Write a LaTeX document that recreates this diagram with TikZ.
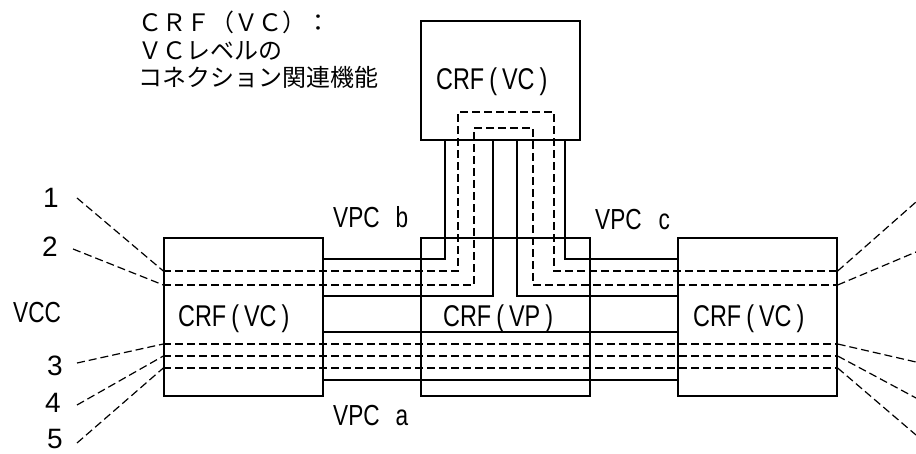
\documentclass[tikz,border=0pt]{standalone}
\usepackage{fontspec}
\setmainfont{Liberation Sans}
\newfontfamily\condsans[FakeStretch=0.78]{Liberation Sans}
\newfontfamily\jpfont{Noto Sans CJK JP}
\begin{document}
\begin{tikzpicture}[x=1pt,y=-1pt,
  box/.style={draw,line width=1.3pt,inner sep=0pt,minimum width=#1},
  wire/.style={line width=1.2pt},
  dwire/.style={line width=1.2pt,dash pattern=on 8pt off 4pt},
  boxtext/.style={font=\condsans\fontsize{30}{32}\selectfont,anchor=base west,inner sep=0pt},
  lbl/.style={font=\condsans\fontsize{29}{31}\selectfont,anchor=base west,inner sep=0pt},
  num/.style={font=\fontsize{28}{30}\selectfont,anchor=base,inner sep=0pt},
  jp/.style={font=\jpfont\fontsize{24}{27}\selectfont,anchor=base west,inner sep=0pt}
]
\useasboundingbox (0,0) rectangle (916,454);

% boxes
\node[box=159pt,minimum height=119pt] (vcT) at (500.5,80.5) {};
\node[box=159pt,minimum height=158pt] (vcL) at (243.5,317) {};
\node[box=169pt,minimum height=158pt] (vp) at (505.5,317) {};
\node[box=159pt,minimum height=158pt] (vcR) at (757.5,317) {};

% box texts
\node[boxtext] (tT) at (436,90) {CRF\,(\,VC\,)};
\node[boxtext] (tL) at (178,327) {CRF\,(\,VC\,)};
\node[boxtext] (tM) at (443,327) {CRF\,(\,VP\,)};
\node[boxtext] (tR) at (693,327) {CRF\,(\,VC\,)};

% Japanese annotation
\node[jp] (j1) at (138,32) {ＣＲＦ（ＶＣ）：};
\node[jp] (j2) at (138,59.5) {ＶＣレベルの};
\node[jp] (j3) at (138,87) {コネクション関連機能};

% labels
\node[lbl] (vcc) at (13,323) {VCC};
\node[lbl] (vpcb) at (333,228) {VPC\hspace{16pt}b};
\node[lbl] (vpcc) at (595,230) {VPC\hspace{17pt}c};
\node[lbl] (vpca) at (333,425) {VPC\hspace{16pt}a};

\node[num] (n1) at (51,208) {1};
\node[num] (n2) at (50,257) {2};
\node[num] (n3) at (55,375) {3};
\node[num] (n4) at (53,413) {4};
\node[num] (n5) at (55,448) {5};

% solid VPC lines
\draw[wire] (vcL.east |- {(0,259)}) -| (vcT.south -| {(445,0)});
\draw[wire] (vcL.east |- {(0,296)}) -| (vcT.south -| {(493,0)});
\draw[wire] (vcR.west |- {(0,296)}) -| (vcT.south -| {(517,0)});
\draw[wire] (vcR.west |- {(0,259)}) -| (vcT.south -| {(565,0)});
\draw[wire] (vcL.east |- {(0,332)}) -- (vcR.west |- {(0,332)});
\draw[wire] (vcL.east |- {(0,380)}) -- (vcR.west |- {(0,380)});

% dashed VC connections
\draw[dwire] (vcL.west |- {(0,271)}) -| (458,112) -| (554,271) -- (vcR.east |- {(0,271)});
\draw[dwire] (vcL.west |- {(0,285)}) -| (474,128) -| (533,285) -- (vcR.east |- {(0,285)});
\draw[dwire] (vcL.west |- {(0,344)}) -- (vcR.east |- {(0,344)});
\draw[dwire] (vcL.west |- {(0,356)}) -- (vcR.east |- {(0,356)});
\draw[dwire] (vcL.west |- {(0,368)}) -- (vcR.east |- {(0,368)});

% leader lines left
\coordinate (a1) at (77,198);
\coordinate (a2) at (73,249);
\coordinate (a3) at (77,363);
\coordinate (a4) at (77,405);
\coordinate (a5) at (77,443);
\draw[dwire] (a1) -- (vcL.west |- {(0,271)});
\draw[dwire] (a2) -- (vcL.west |- {(0,285)});
\draw[dwire] (a3) -- (vcL.west |- {(0,344)});
\draw[dwire] (a4) -- (vcL.west |- {(0,356)});
\draw[dwire] (a5) -- (vcL.west |- {(0,368)});

% leader lines right
\coordinate (b1) at (916,202);
\coordinate (b2) at (916,252);
\coordinate (b3) at (916,362);
\coordinate (b4) at (916,398);
\coordinate (b5) at (916,435);
\draw[dwire] (vcR.east |- {(0,271)}) -- (b1);
\draw[dwire] (vcR.east |- {(0,285)}) -- (b2);
\draw[dwire] (vcR.east |- {(0,344)}) -- (b3);
\draw[dwire] (vcR.east |- {(0,356)}) -- (b4);
\draw[dwire] (vcR.east |- {(0,368)}) -- (b5);
\end{tikzpicture}
\end{document}
